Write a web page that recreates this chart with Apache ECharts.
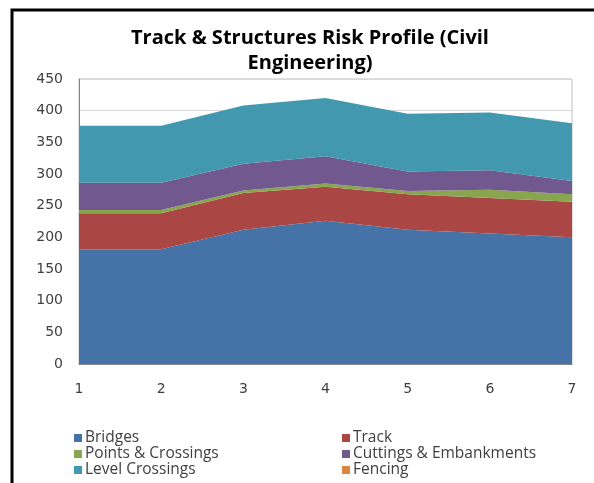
<!DOCTYPE html>
<html>
<head>
<meta charset="utf-8">
<script src="https://cdn.jsdelivr.net/npm/echarts@6/dist/echarts.min.js"></script>
<style>
  html, body { margin: 0; padding: 0; background: #fff; }
  #main { width: 594px; height: 483px; }
</style>
</head>
<body>
<div id="main"></div>
<script>
"use strict";

var categories = ["1", "2", "3", "4", "5", "6", "7"];
var bridges = [181, 181, 212, 226, 212, 206, 200];
var track = [57, 57, 58, 54, 56, 56, 56];
var pointsCrossings = [5, 5, 4, 5, 5, 13, 12];
var cuttings = [43, 43, 42, 43, 31, 31, 21];
var levelCrossings = [90, 90, 92, 92, 91, 91, 91];
var fencing = [0, 0, 0, 0, 0, 0, 0];

var seriesNames = ["Bridges", "Track", "Points & Crossings", "Cuttings & Embankments", "Level Crossings", "Fencing"];
var seriesData = [bridges, track, pointsCrossings, cuttings, levelCrossings, fencing];
var colors = ["#4572A7", "#AA4643", "#89A54E", "#71588F", "#4198AF", "#DB843D"];

var chartDom = document.getElementById("main");
var myChart = echarts.init(chartDom);

var textColor = "#404040";
var font = "'Open Sans', sans-serif";
var axisFont = "'DejaVu Sans', sans-serif";

var series = seriesNames.map(function (name, i) {
  return {
    name: name,
    type: "line",
    stack: "total",
    data: seriesData[i],
    symbol: "none",
    lineStyle: { width: 0 },
    areaStyle: { opacity: 1, color: colors[i] },
    itemStyle: { color: colors[i] },
  };
});

var legendBase = {
  orient: "vertical",
  top: 425,
  itemWidth: 8,
  itemHeight: 8,
  itemGap: 0,
  icon: "rect",
  textStyle: { color: textColor, fontSize: 15.5, fontFamily: font, padding: [0, 0, 0, -2] },
};

var option = {
  animation: false,
  backgroundColor: "#fff",
  title: {
    text: "Track & Structures Risk Profile (Civil\nEngineering)",
    left: 305,
    textAlign: "center",
    top: 21,
    textStyle: { fontSize: 20, fontWeight: "bold", color: "#000", fontFamily: font, lineHeight: 25 },
  },
  legend: [
    Object.assign({}, legendBase, { left: 69, data: ["Bridges", "Points & Crossings", "Level Crossings"] }),
    Object.assign({}, legendBase, { left: 337, data: ["Track", "Cuttings & Embankments", "Fencing"] }),
  ],
  grid: {
    left: 79,
    top: 79,
    right: 22,
    bottom: 119,
    show: true,
    borderColor: "#BFBFBF",
    borderWidth: 1,
  },
  xAxis: {
    type: "category",
    data: categories,
    boundaryGap: false,
    axisLine: { lineStyle: { color: "#868686" } },
    axisTick: { show: false },
    axisLabel: { color: textColor, fontSize: 14, fontFamily: axisFont, margin: 18 },
  },
  yAxis: {
    type: "value",
    min: 0,
    max: 450,
    interval: 50,
    axisLine: { show: true, lineStyle: { color: "#868686" } },
    axisTick: { show: false },
    axisLabel: { color: textColor, fontSize: 14, fontFamily: axisFont, margin: 16 },
    splitLine: { lineStyle: { color: "#D9D9D9" } },
  },
  graphic: [
    {
      type: "polyline",
      silent: true,
      shape: { points: [[12, 483], [12, 10], [594, 10]] },
      style: { stroke: "#000", lineWidth: 3, fill: null },
    },
  ],
  series: series,
};

option && myChart.setOption(option);
</script>
</body>
</html>
